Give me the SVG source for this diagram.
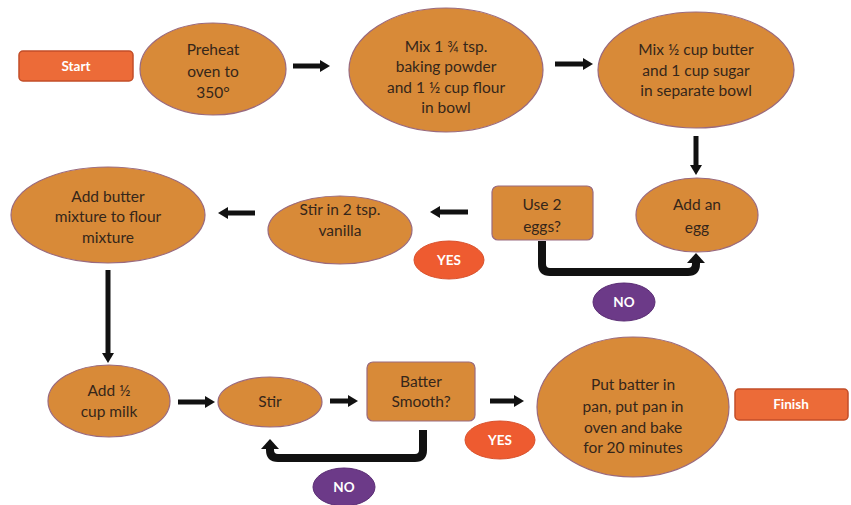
<svg xmlns="http://www.w3.org/2000/svg" width="851" height="505" viewBox="0 0 851 505">
<style>
.node ellipse, .node rect.box { fill: #D88A38; stroke: #9A6A7E; stroke-width: 1.2; }
.t { font-family: Lato, "Open Sans", "Liberation Sans", sans-serif; font-size: 15.5px; fill: #35261A; text-anchor: middle; }
.term { fill: #EC6B38; stroke: #C24E28; stroke-width: 1.5; }
.tw { font-family: Lato, "Open Sans", "Liberation Sans", sans-serif; font-size: 13.5px; font-weight: bold; fill: #FFFFFF; text-anchor: middle; }
.yes { fill: #EE5B30; stroke: #D8502C; stroke-width: 1; }
.no { fill: #6C3A88; stroke: #5A2C74; stroke-width: 1; }
.arr { stroke: #111; stroke-width: 5; fill: none; }
.loop { stroke: #111; stroke-width: 8; fill: none; stroke-linejoin: round; }
</style>
<defs>
<marker id="head" markerUnits="userSpaceOnUse" viewBox="0 0 10 12" markerWidth="10" markerHeight="12" refX="0" refY="6" orient="auto">
<path d="M0,0 L10,6 L0,12 z" fill="#111"/>
</marker>
<marker id="headL" markerUnits="userSpaceOnUse" viewBox="0 0 10 18" markerWidth="10" markerHeight="18" refX="0" refY="9" orient="auto">
<path d="M0,0 L10,9 L0,18 z" fill="#111"/>
</marker>
</defs>

<g id="connectors">
<line class="arr" x1="293" y1="66" x2="320" y2="66" marker-end="url(#head)"/>
<line class="arr" x1="555" y1="64" x2="583" y2="64" marker-end="url(#head)"/>
<line class="arr" x1="696" y1="136" x2="696" y2="165" marker-end="url(#head)"/>
<line class="arr" x1="468" y1="212" x2="440" y2="212" marker-end="url(#head)"/>
<line class="arr" x1="255" y1="213" x2="228" y2="213" marker-end="url(#head)"/>
<line class="arr" x1="108" y1="270" x2="108" y2="353" marker-end="url(#head)"/>
<line class="arr" x1="178" y1="402" x2="205" y2="402" marker-end="url(#head)"/>
<line class="arr" x1="330" y1="401" x2="348" y2="401" marker-end="url(#head)"/>
<line class="arr" x1="490" y1="401" x2="514" y2="401" marker-end="url(#head)"/>
<path class="loop" d="M542,241 V264 Q542,272 550,272 H688 Q696,272 696,264 V263" marker-end="url(#headL)"/>
<path class="loop" d="M423,430 V450 Q423,458 415,458 H278 Q270,458 270,450 V449" marker-end="url(#headL)"/>
</g>

<g id="start"><rect class="term" x="19" y="51" width="114" height="30" rx="4"/><text class="tw" x="76" y="71">Start</text></g>

<g id="preheat" class="node"><ellipse cx="213" cy="69" rx="73" ry="46"/>
<text class="t" x="213" y="55">Preheat</text><text class="t" x="213" y="77">oven to</text><text class="t" x="213" y="98">350°</text></g>

<g id="mix-powder" class="node"><ellipse cx="446" cy="70" rx="97" ry="62"/>
<text class="t" x="446" y="52">Mix 1 ¾ tsp.</text><text class="t" x="446" y="72">baking powder</text><text class="t" x="446" y="93">and 1 ½ cup flour</text><text class="t" x="446" y="113">in bowl</text></g>

<g id="mix-butter" class="node"><ellipse cx="696" cy="70" rx="98" ry="58"/>
<text class="t" x="696" y="55">Mix ½ cup butter</text><text class="t" x="696" y="76">and 1 cup sugar</text><text class="t" x="696" y="96">in separate bowl</text></g>

<g id="add-egg" class="node"><ellipse cx="697" cy="215" rx="61" ry="37"/>
<text class="t" x="697" y="210">Add an</text><text class="t" x="697" y="233">egg</text></g>

<g id="use-eggs" class="node"><rect class="box" x="492" y="186" width="101" height="54" rx="6"/>
<text class="t" x="542" y="210">Use 2</text><text class="t" x="542" y="232">eggs?</text></g>

<g id="no1"><ellipse class="no" cx="624" cy="302" rx="31" ry="19"/><text class="tw" x="624" y="307">NO</text></g>

<g id="vanilla" class="node"><ellipse cx="340" cy="230" rx="72" ry="34"/>
<text class="t" x="340" y="215">Stir in 2 tsp.</text><text class="t" x="340" y="236">vanilla</text></g>

<g id="yes1"><ellipse class="yes" cx="449" cy="260" rx="35" ry="19"/><text class="tw" x="449" y="265">YES</text></g>

<g id="butter-flour" class="node"><ellipse cx="108" cy="215" rx="97" ry="48"/>
<text class="t" x="108" y="202">Add butter</text><text class="t" x="108" y="222">mixture to flour</text><text class="t" x="108" y="243">mixture</text></g>

<g id="milk" class="node"><ellipse cx="109" cy="401" rx="61" ry="36"/>
<text class="t" x="109" y="396">Add ½</text><text class="t" x="109" y="417">cup milk</text></g>

<g id="stir" class="node"><ellipse cx="270" cy="402" rx="52" ry="25"/>
<text class="t" x="270" y="407">Stir</text></g>

<g id="batter-smooth" class="node"><rect class="box" x="367" y="362" width="108" height="59" rx="6"/>
<text class="t" x="421" y="387">Batter</text><text class="t" x="421" y="407">Smooth?</text></g>

<g id="no2"><ellipse class="no" cx="344" cy="487" rx="31" ry="19"/><text class="tw" x="344" y="492">NO</text></g>

<g id="yes2"><ellipse class="yes" cx="500" cy="440" rx="35" ry="19"/><text class="tw" x="500" y="445">YES</text></g>

<g id="bake" class="node"><ellipse cx="633" cy="407" rx="96" ry="70"/>
<text class="t" x="633" y="390">Put batter in</text><text class="t" x="633" y="412">pan, put pan in</text><text class="t" x="633" y="433">oven and bake</text><text class="t" x="633" y="453">for 20 minutes</text></g>

<g id="finish"><rect class="term" x="735" y="389" width="113" height="31" rx="4"/><text class="tw" x="791" y="409">Finish</text></g>
</svg>
